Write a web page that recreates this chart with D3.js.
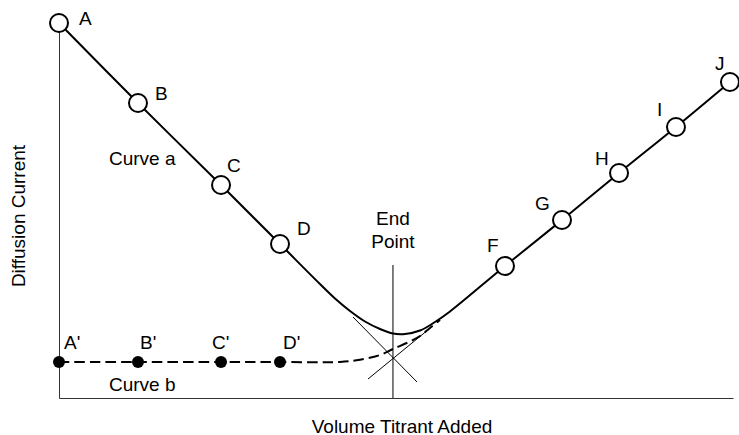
<!DOCTYPE html>
<html>
<head>
<meta charset="utf-8">
<script src="https://cdn.jsdelivr.net/npm/d3@7"></script>
<style>
  html, body { margin: 0; padding: 0; background: #fff; }
  svg { display: block; }
  text { font-family: "Liberation Sans", Arial, Helvetica, sans-serif; fill: #000; }
</style>
</head>
<body>
<svg id="chart" width="739" height="435"></svg>
<script>
// Amperometric titration: titration points on curve a (open circles)
const pointNames   = ["A", "B", "C", "D", "F", "G", "H", "I", "J"];
const pointVolume  = [0, 11.72, 24.04, 32.79, 66.17, 74.63, 83.09, 91.54, 99.55];
const pointCurrent = [100, 78.67, 56.8, 41.07, 35.2, 47.47, 60.0, 72.27, 84.27];

// Curve a, including the rounded section near the end point
const curveAVolume  = [0, 11.72, 24.04, 32.79, 38.72, 40.95, 43.18, 45.4, 47.63, 49.55, 51.34, 53.56, 55.79, 58.01, 66.17, 74.63, 83.09, 91.54, 99.55];
const curveACurrent = [100, 78.67, 56.8, 41.07, 30.4, 26.53, 23.2, 20.4, 18.4, 17.2, 17.07, 17.99, 20.27, 23.07, 35.2, 47.47, 60.0, 72.27, 84.27];

// Curve b points (filled dots) and the dashed curve through them
const primeNames   = ["A'", "B'", "C'", "D'"];
const primeVolume  = [0, 11.72, 24.04, 32.79];
const primeCurrent = [9.6, 9.6, 9.6, 9.6];
const curveBVolume  = [0, 11.72, 24.04, 32.79, 41.7, 44.66, 47.63, 49.55, 52.08, 53.56, 55.04, 56.53];
const curveBCurrent = [9.6, 9.6, 9.6, 9.6, 9.6, 10.2, 11.47, 13.07, 15.07, 16.53, 18.67, 20.8];

// Extrapolated straight branches crossing at the end point
const branchDownVolume  = [43.62, 53.12];
const branchDownCurrent = [21.6, 4.27];
const branchUpVolume    = [45.85, 54.3];
const branchUpCurrent   = [5.07, 17.5];
const endPointVolume  = 49.55;
const endPointCurrent = [35.47, 0];

const xLabel = "Volume Titrant Added";
const yLabel = "Diffusion Current";

const svg = d3.select("#chart");
const fontSize = 19;

const x = d3.scaleLinear().domain([0, 100]).range([59, 733]);
const y = d3.scaleLinear().domain([0, 100]).range([398, 23]);

// Axes (plain lines, no ticks)
const axisX = d3.axisBottom(x).tickValues([]).tickSizeOuter(0);
const axisY = d3.axisLeft(y).tickValues([]).tickSizeOuter(0);
svg.append("g").attr("transform", `translate(0,${y(0)})`).call(axisX)
  .select(".domain").attr("stroke", "#333").attr("stroke-width", 1);
svg.append("g").attr("transform", `translate(${x(0)},0)`).call(axisY)
  .select(".domain").attr("stroke", "#333").attr("stroke-width", 1);

const line = d3.line().x(d => x(d[0])).y(d => y(d[1]));
const smooth = d3.line().x(d => x(d[0])).y(d => y(d[1])).curve(d3.curveCatmullRom.alpha(0.5));

// End point marker
svg.append("path")
  .attr("d", line(endPointCurrent.map(c => [endPointVolume, c])))
  .attr("stroke", "#000").attr("stroke-width", 1).attr("fill", "none");
svg.append("path")
  .attr("d", line(branchDownVolume.map((v, i) => [v, branchDownCurrent[i]])))
  .attr("stroke", "#000").attr("stroke-width", 1).attr("fill", "none");
svg.append("path")
  .attr("d", line(branchUpVolume.map((v, i) => [v, branchUpCurrent[i]])))
  .attr("stroke", "#000").attr("stroke-width", 1).attr("fill", "none");

// Curve b (dashed)
svg.append("path")
  .attr("d", smooth(curveBVolume.map((v, i) => [v, curveBCurrent[i]])))
  .attr("stroke", "#000").attr("stroke-width", 2).attr("fill", "none")
  .attr("stroke-dasharray", "10.5,5");

// Curve a
svg.append("path")
  .attr("d", smooth(curveAVolume.map((v, i) => [v, curveACurrent[i]])))
  .attr("stroke", "#000").attr("stroke-width", 2).attr("fill", "none");

// Markers
svg.selectAll("circle.open").data(pointVolume).join("circle")
  .attr("class", "open")
  .attr("cx", (v) => x(v)).attr("cy", (v, i) => y(pointCurrent[i]))
  .attr("r", 9).attr("fill", "#fff").attr("stroke", "#000").attr("stroke-width", 2);
svg.selectAll("circle.filled").data(primeVolume).join("circle")
  .attr("class", "filled")
  .attr("cx", (v) => x(v)).attr("cy", (v, i) => y(primeCurrent[i]))
  .attr("r", 6).attr("fill", "#000");

// Point labels, offset from their markers
const pointLabelOffset = [[20, -5], [17, -9], [6, -20], [17, -15], [-18, -21], [-27, -16], [-24, -15], [-19, -17], [-15, -18]];
svg.selectAll("text.pt").data(pointNames).join("text")
  .attr("class", "pt")
  .attr("x", (n, i) => x(pointVolume[i]) + pointLabelOffset[i][0])
  .attr("y", (n, i) => y(pointCurrent[i]) + pointLabelOffset[i][1])
  .attr("dominant-baseline", "central")
  .attr("font-size", fontSize).text(n => n);
const primeLabelOffset = [[5, -20], [2, -20], [-9, -20], [3, -20]];
svg.selectAll("text.pp").data(primeNames).join("text")
  .attr("class", "pp")
  .attr("x", (n, i) => x(primeVolume[i]) + primeLabelOffset[i][0])
  .attr("y", (n, i) => y(primeCurrent[i]) + primeLabelOffset[i][1])
  .attr("dominant-baseline", "central")
  .attr("font-size", fontSize).text(n => n);

// Curve names
svg.append("text").attr("x", 109).attr("y", 158.5).attr("dominant-baseline", "central")
  .attr("font-size", fontSize).text("Curve a");
svg.append("text").attr("x", 109).attr("y", 384).attr("dominant-baseline", "central")
  .attr("font-size", fontSize).text("Curve b");

// End point caption
const ep = svg.append("text").attr("text-anchor", "middle").attr("font-size", fontSize);
ep.append("tspan").attr("x", x(endPointVolume)).attr("y", 218).attr("dominant-baseline", "central").text("End");
ep.append("tspan").attr("x", x(endPointVolume)).attr("y", 241).attr("dominant-baseline", "central").text("Point");

// Axis titles
svg.append("text").attr("x", 402).attr("y", 426).attr("text-anchor", "middle")
  .attr("dominant-baseline", "central").attr("font-size", fontSize).text(xLabel);
svg.append("text").attr("transform", "translate(18,216) rotate(-90)")
  .attr("text-anchor", "middle").attr("dominant-baseline", "central")
  .attr("font-size", fontSize).text(yLabel);
</script>
</body>
</html>
